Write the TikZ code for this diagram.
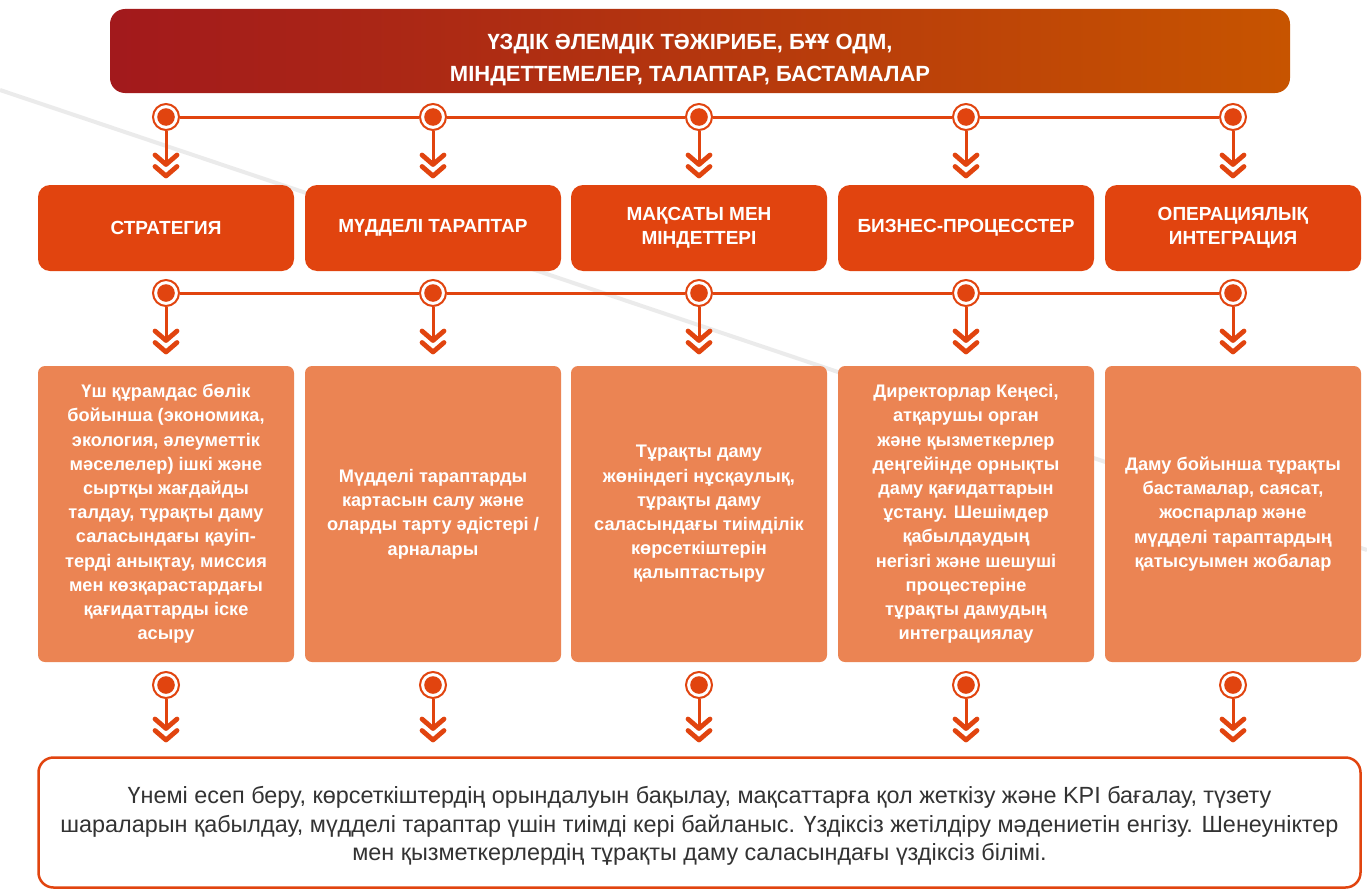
\documentclass[tikz,border=0pt]{standalone}
\usepackage{fontspec}
\setmainfont{Liberation Sans}
\usetikzlibrary{positioning}
\definecolor{orng}{HTML}{E1440F}
\definecolor{lorng}{HTML}{EB8453}
\definecolor{bannerL}{HTML}{A2191C}
\definecolor{bannerR}{HTML}{C75400}
\definecolor{bgline}{HTML}{EBEBEB}
\definecolor{txtgray}{HTML}{333333}
\tikzset{
  hdrbox/.style={fill=orng, rounded corners=12pt, minimum width=256pt, minimum height=86pt,
    text=white, align=center, inner sep=0pt, font=\bfseries\fontsize{19}{24}\selectfont},
  detbox/.style={fill=lorng, rounded corners=7pt, minimum width=256pt, minimum height=296pt,
    text=white, align=center, inner sep=0pt, font=\bfseries\fontsize{18.2}{24.2}\selectfont},
  dotnode/.style={circle, draw=orng, line width=2pt, fill=white, minimum size=26pt, inner sep=0pt,
    path picture={\fill[orng] (path picture bounding box.center) circle (8.8pt);}},
  hline/.style={draw=orng, line width=3pt},
  stemline/.style={draw=orng, line width=3pt},
  chevline/.style={draw=orng, line width=4.8pt, line cap=round, line join=round},
  chevs/.pic={
    \draw[chevline] (-11,0) -- (0,9.5) -- (11,0);
    \draw[chevline] (-11,11.5) -- (0,21) -- (11,11.5);
  }
}
\begin{document}
\begin{tikzpicture}[x=1pt,y=-1pt]
\useasboundingbox (0,0) rectangle (1367,891);
% background diagonal line
\coordinate (bgA) at (0,90);
\coordinate (bgB) at (1367,550);
\draw[bgline, line width=4pt] (bgA) -- (bgB);

% banner
\node[left color=bannerL, right color=bannerR, rounded corners=15pt, minimum width=1180pt,
  minimum height=84pt, inner sep=0pt] (banner) at (700,51) {};
\node[inner sep=0pt, text=white, align=center,
  font=\bfseries\fontsize{22}{32}\selectfont] (title) at ([xshift=-10pt,yshift=-9pt]banner.center)
  {ҮЗДІК ӘЛЕМДІК ТӘЖІРИБЕ, БҰҰ ОДМ,\\МІНДЕТТЕМЕЛЕР, ТАЛАПТАР, БАСТАМАЛАР};

% columns
\foreach \i/\x in {1/166,2/433,3/699,4/966,5/1233}{
  \node[dotnode] (a\i) at (\x,117) {};
  \node[dotnode] (b\i) at (\x,293) {};
  \node[dotnode] (c\i) at (\x,685) {};
  \coordinate (ka\i) at (\x,155);
  \coordinate (kb\i) at (\x,331);
  \coordinate (kc\i) at (\x,719);
  \draw[stemline] (a\i.south) -- ([yshift=-8pt]ka\i);
  \draw[stemline] (b\i.south) -- ([yshift=-8pt]kb\i);
  \draw[stemline] (c\i.south) -- ([yshift=-8pt]kc\i);
  \pic at (ka\i) {chevs};
  \pic at (kb\i) {chevs};
  \pic at (kc\i) {chevs};
}
\foreach \i/\j in {1/2,2/3,3/4,4/5}{
  \draw[hline] (a\i) -- (a\j);
  \draw[hline] (b\i) -- (b\j);
}

% header boxes
\node[hdrbox] (h1) at (166,228) {СТРАТЕГИЯ};
\node[hdrbox] (h2) at (433,228) {МҮДДЕЛІ ТАРАПТАР};
\node[hdrbox] (h3) at (699,228) {МАҚСАТЫ МЕН\\МІНДЕТТЕРІ};
\node[hdrbox] (h4) at (966,228) {БИЗНЕС-ПРОЦЕССТЕР};
\node[hdrbox] (h5) at (1233,228) {ОПЕРАЦИЯЛЫҚ\\ИНТЕГРАЦИЯ};

% detail boxes
\node[detbox] (d1) at (166,514) {Үш құрамдас бөлік\\бойынша (экономика,\\экология, әлеуметтік\\мәселелер) ішкі және\\сыртқы жағдайды\\талдау, тұрақты даму\\саласындағы қауіп-\\терді анықтау, миссия\\мен көзқарастардағы\\қағидаттарды іске\\асыру};
\node[detbox] (d2) at (433,514) {Мүдделі тараптарды\\картасын салу және\\оларды тарту әдістері /\\арналары};
\node[detbox] (d3) at (699,514) {Тұрақты даму\\жөніндегі нұсқаулық,\\тұрақты даму\\саласындағы тиімділік\\көрсеткіштерін\\қалыптастыру};
\node[detbox] (d4) at (966,514) {Директорлар Кеңесі,\\атқарушы орган\\және қызметкерлер\\деңгейінде орнықты\\даму қағидаттарын\\ұстану. Шешімдер\\қабылдаудың\\негізгі және шешуші\\процестеріне\\тұрақты дамудың\\интеграциялау};
\node[detbox] (d5) at (1233,514) {Даму бойынша тұрақты\\бастамалар, саясат,\\жоспарлар және\\мүдделі тараптардың\\қатысуымен жобалар};

% bottom box
\node[draw=orng, line width=2.5pt, fill=white, rounded corners=15pt, minimum width=1322pt,
  minimum height=130pt, inner sep=0pt] (bottom) at (699.5,822.5) {};
\node[inner sep=0pt, align=center, text=txtgray,
  font=\fontsize{23.4}{28.5}\selectfont] (bottomtext) at ([yshift=-3.5pt]bottom.center)
  {Үнемі есеп беру, көрсеткіштердің орындалуын бақылау, мақсаттарға қол жеткізу және KPI бағалау, түзету\\шараларын қабылдау, мүдделі тараптар үшін тиімді кері байланыс. Үздіксіз жетілдіру мәдениетін енгізу. Шенеуніктер\\мен қызметкерлердің тұрақты даму саласындағы үздіксіз білімі.};
\end{tikzpicture}
\end{document}
